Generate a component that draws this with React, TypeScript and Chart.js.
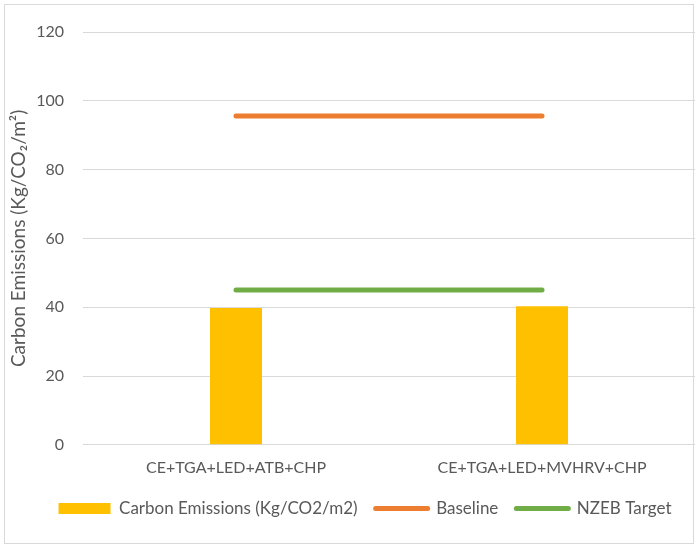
import React, { useEffect, useRef } from "react";
import { Chart, registerables } from "chart.js";

Chart.register(...registerables);

const categories = ["CE+TGA+LED+ATB+CHP", "CE+TGA+LED+MVHRV+CHP"];
const carbonEmissions = [39.8, 40.3];
const baseline = [95.6, 95.6];
const nzebTarget = [45, 45];
const seriesNames = ["Carbon Emissions (Kg/CO2/m2)", "Baseline", "NZEB Target"];
const yTitle = "Carbon Emissions (Kg/CO\u2082/m\u00B2)";

const FONT = "Lato, 'Open Sans', sans-serif";
const GRAY = "#595959";

export default function App() {
  const ref = useRef<HTMLCanvasElement | null>(null);

  useEffect(() => {
    document.body.style.margin = "0";
    const ctx = ref.current!.getContext("2d")!;
    const colors = ["#FFC000", "#ED7D31", "#70AD47"];
    const shiftLegend = {
      id: "shiftLegend",
      afterLayout(c: any) {
        if (c.legend) {
          c.legend.left += 14;
          c.legend.right += 14;
        }
      },
    };
    const chart = new Chart(ctx, {
      type: "bar",
      plugins: [shiftLegend],
      data: {
        labels: categories,
        datasets: [
          {
            type: "bar",
            label: seriesNames[0],
            data: carbonEmissions,
            backgroundColor: colors[0],
            borderWidth: 0,
            barPercentage: 0.17,
            categoryPercentage: 1,
          },
          {
            type: "line",
            label: seriesNames[1],
            data: baseline,
            borderColor: colors[1],
            backgroundColor: colors[1],
            borderWidth: 5,
            borderCapStyle: "round",
            pointRadius: 0,
            fill: false,
          },
          {
            type: "line",
            label: seriesNames[2],
            data: nzebTarget,
            borderColor: colors[2],
            backgroundColor: colors[2],
            borderWidth: 5,
            borderCapStyle: "round",
            pointRadius: 0,
            fill: false,
          },
        ] as any,
      },
      options: {
        animation: false,
        responsive: false,
        layout: { padding: { left: 7, right: 4, top: 32, bottom: 24 } },
        plugins: {
          tooltip: { enabled: false },
          legend: {
            position: "bottom",
            labels: {
              usePointStyle: true,
              pointStyleWidth: 52,
              boxHeight: 11,
              padding: 18,
              color: GRAY,
              font: { family: FONT, size: 17 },
              generateLabels: (c: any) =>
                c.data.datasets.map((ds: any, i: number) => ({
                  text: ds.label,
                  fillStyle: colors[i],
                  strokeStyle: colors[i],
                  lineWidth: i === 0 ? 0 : 5,
                  lineCap: "round",
                  pointStyle: i === 0 ? "rect" : "line",
                  fontColor: GRAY,
                  hidden: false,
                  datasetIndex: i,
                })),
            },
          },
        },
        scales: {
          x: {
            grid: { display: false },
            border: { display: false },
            ticks: { color: GRAY, font: { family: FONT, size: 16 }, padding: 5 },
          },
          y: {
            min: 0,
            max: 120,
            afterFit: (s: any) => {
              s.width = 76;
            },
            ticks: { stepSize: 20, color: GRAY, font: { family: FONT, size: 16 }, padding: 19 },
            grid: { color: "#d9d9d9", tickLength: 0, drawTicks: false },
            border: { display: false },
            title: {
              display: true,
              text: yTitle,
              color: GRAY,
              font: { family: FONT, size: 19 },
              padding: { top: 0, bottom: 0 },
            },
          },
        },
      } as any,
    });
    return () => chart.destroy();
  }, []);

  return (
    <div style={{ position: "relative", width: 699, height: 551, overflow: "hidden", background: "#fff" }}>
      <div
        style={{
          position: "absolute",
          left: 4,
          top: 4,
          width: 690,
          height: 540,
          border: "1px solid #d9d9d9",
          boxSizing: "border-box",
        }}
      />
      <canvas ref={ref} width={699} height={551} style={{ position: "absolute", left: 0, top: 0 }} />
    </div>
  );
}
